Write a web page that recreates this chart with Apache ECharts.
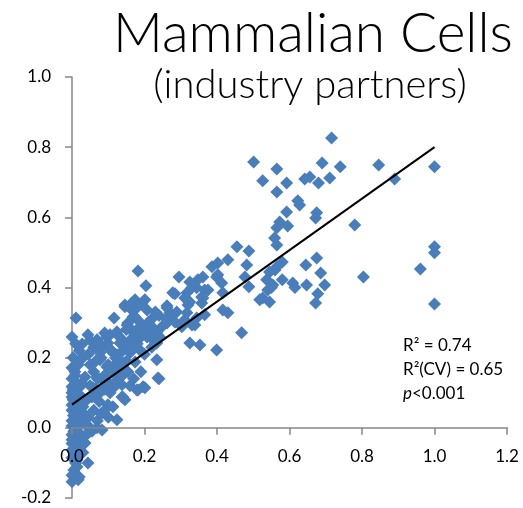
<!DOCTYPE html>
<html>
<head>
<meta charset="utf-8">
<script src="https://cdn.jsdelivr.net/npm/echarts@6/dist/echarts.min.js"></script>
<style>
  html, body { margin: 0; padding: 0; background: #fff; }
  #chart { width: 523px; height: 508px; }
</style>
</head>
<body>
<div id="chart"></div>
<script>
// Measured vs. predicted values, one [x, y] pair per sample
const samplesNearZero = [
  [0.011,0.313],[0.0,0.259],[0.044,0.265],[0.028,0.239],[0.02,0.22],[0.01,0.24],[0.03,0.20],
  [0.045,0.21],[0.06,0.23],[0.05,0.25],[0.065,0.19],[0.06,0.16],[0.07,0.14],[0.05,0.12],
  [0.065,0.11],[0.075,0.075],[0.06,0.05],[0.045,0.03],[0.08,0.04],[0.09,0.05],[0.1,0.03],
  [0.07,0.02],[0.055,-0.01],[0.04,-0.02],[0.03,-0.07],
  [0.003,0.20],[0.008,0.15],[0.0,0.14],[0.012,0.13],[0.004,0.12],[0.02,0.115],[0.0,0.10],
  [0.01,0.095],[0.025,0.09],[0.003,0.08],[0.015,0.075],[0.0,0.065],[0.008,0.06],[0.02,0.055],
  [0.03,0.06],[0.0,0.05],[0.012,0.045],[0.004,0.035],[0.02,0.03],[0.0,0.02],[0.01,0.015],
  [0.03,0.015],[0.0,0.005],[0.015,0.0],[0.04,0.005],[0.005,-0.01],[0.0,-0.02],[0.02,-0.015],
  [0.01,-0.03],[0.03,-0.025],[0.0,-0.045],[0.015,-0.05],[0.005,-0.07],[0.02,-0.075],
  [0.0,-0.085],[0.01,-0.1],[0.005,-0.12],[0.0,-0.135],[0.02,-0.14],
  [0.0,0.171],[0.008,0.16],[0.017,0.18],[0.05,0.18],[0.036,0.145],[0.028,0.128],[0.0,0.117],
  [0.003,0.108],[0.0,0.088],[0.041,0.08],[0.055,0.088],[0.008,0.023],[0.022,0.031],
  [0.036,0.037],[0.0,-0.034],[0.014,-0.034],[0.0,-0.063],[0.022,-0.054],[0.036,-0.043],
  [0.044,-0.1],[0.014,-0.111],[0.0,-0.154],[0.017,-0.148],[-0.005,-0.162],[0.014,-0.091],
  [0.069,0.0],[0.05,0.0],[0.083,-0.006],[0.058,0.114],[0.077,0.108]
];
const samplesLow = [
  [0.116,0.313],[0.146,0.35],[0.174,0.365],[0.201,0.365],[0.165,0.336],[0.174,0.316],
  [0.187,0.302],[0.154,0.299],[0.165,0.279],[0.105,0.265],[0.124,0.274],[0.138,0.251],
  [0.099,0.242],[0.072,0.245],[0.182,0.251],[0.209,0.265],[0.229,0.279],[0.262,0.342],
  [0.27,0.316],[0.278,0.385],[0.077,0.1],[0.105,0.1],[0.124,0.137],[0.138,0.123],[0.14,0.088],
  [0.174,0.188],[0.182,0.108],[0.201,0.114],[0.234,0.194],[0.24,0.14],[0.154,0.16],
  [0.113,0.06],[0.124,0.023],[0.237,0.142],[0.179,0.108],[0.196,0.117],[0.138,0.088],
  [0.146,0.08],[0.099,0.066],[0.069,0.251],[0.085,0.231],[0.096,0.259],[0.077,0.214],
  [0.105,0.222],[0.077,0.194],[0.096,0.174],[0.118,0.18],[0.069,0.145],[0.085,0.137],
  [0.105,0.117],[0.132,0.242],[0.152,0.231],[0.16,0.214],[0.168,0.231],[0.124,0.208],
  [0.138,0.188],[0.187,0.222],[0.207,0.259],[0.223,0.251],
  [0.09,0.15],[0.1,0.18],[0.11,0.16],[0.12,0.2],[0.13,0.17],[0.14,0.22],[0.15,0.19],
  [0.16,0.25],[0.17,0.27],[0.18,0.24],[0.19,0.26],[0.2,0.28],[0.21,0.3],[0.22,0.31],
  [0.24,0.32],[0.25,0.29],[0.23,0.33],[0.26,0.31],[0.1,0.13],[0.09,0.11],[0.12,0.12],
  [0.14,0.15],[0.16,0.12],[0.17,0.14],[0.19,0.16],[0.2,0.21],[0.22,0.23],[0.11,0.22],
  [0.13,0.26],[0.15,0.28],[0.08,0.2],[0.09,0.27]
];
const samplesMid = [
  [0.182,0.447],[0.204,0.405],[0.146,0.345],[0.179,0.342],[0.165,0.356],[0.193,0.356],
  [0.207,0.336],[0.168,0.316],[0.152,0.293],[0.187,0.288],[0.207,0.274],[0.223,0.285],
  [0.234,0.271],[0.242,0.259],[0.234,0.242],[0.262,0.299],[0.27,0.328],[0.284,0.302],
  [0.303,0.288],[0.317,0.328],[0.331,0.293],[0.344,0.313],[0.358,0.356],
  [0.295,0.43],[0.284,0.382],[0.262,0.348],[0.325,0.416],[0.331,0.40],[0.317,0.385],
  [0.32,0.350],[0.344,0.399],[0.361,0.43],[0.358,0.373],[0.366,0.393],[0.386,0.459],
  [0.402,0.47],[0.399,0.43],[0.413,0.413],[0.416,0.385],[0.43,0.479],[0.416,0.336],
  [0.43,0.328],[0.455,0.516],[0.488,0.504],[0.482,0.464],[0.477,0.43],[0.488,0.402],
  [0.347,0.422],[0.402,0.436],[0.311,0.37],[0.325,0.359],[0.375,0.393],[0.361,0.37],
  [0.289,0.33],[0.311,0.308],[0.339,0.293],[0.366,0.322],[0.468,0.271],[0.325,0.242],
  [0.353,0.236],[0.399,0.222],[0.518,0.365]
];
const samplesHigh = [
  [0.716,0.826],[0.69,0.755],[0.74,0.744],[0.846,0.749],[1.0,0.744],[0.565,0.738],
  [0.501,0.758],[0.526,0.704],[0.592,0.698],[0.642,0.709],[0.656,0.715],[0.68,0.698],
  [0.711,0.712],[0.89,0.709],[0.565,0.672],[0.623,0.647],[0.628,0.635],[0.592,0.615],
  [0.675,0.613],[0.672,0.598],[0.573,0.587],[0.565,0.570],[0.595,0.575],[0.78,0.578],
  [0.559,0.541],[0.565,0.521],[1.0,0.516],[1.0,0.499],[0.675,0.484],[0.58,0.473],
  [0.565,0.459],[0.545,0.444],[0.537,0.422],[0.554,0.407],[0.54,0.393],[0.526,0.370],
  [0.545,0.359],[0.58,0.422],[0.609,0.413],[0.615,0.40],[0.645,0.464],[0.686,0.441],
  [0.647,0.407],[0.697,0.407],[0.678,0.382],[0.672,0.356],[0.804,0.43],[0.961,0.453],
  [1.0,0.353],[0.56,0.45],[0.55,0.40]
];
// Least-squares fit end points
const fitLine = [[0.0, 0.066], [1.0, 0.80]];

const titleText = 'Mammalian Cells';
const subtitleText = '(industry partners)';
const statLines = ['R\u00b2 = 0.74', 'R\u00b2(CV) = 0.65'];
const pText = '<0.001';

const yMin = -0.2, yMax = 1.0;
const axisGray = '#868686';
const labelFont = 'Lato, "Open Sans", sans-serif';

const gridTop = 77, gridBottom = 10, chartH = 508;
const gridH = chartH - gridTop - gridBottom;
// shift the bottom x axis up so that it sits on y = 0
const xAxisShift = -gridH * (0 - yMin) / (yMax - yMin);

const chart = echarts.init(document.getElementById('chart'));
chart.setOption({
  animation: false,
  backgroundColor: '#fff',
  title: [
    { text: titleText, left: 308, top: 2, textAlign: 'center',
      textStyle: { fontFamily: 'Lato, sans-serif', fontWeight: 300, fontSize: 55, color: '#000' } },
    { text: subtitleText, left: 305, top: 60, textAlign: 'center',
      textStyle: { fontFamily: 'Lato, sans-serif', fontWeight: 300, fontSize: 40, color: '#000' } }
  ],
  grid: { left: 72, right: 16, top: gridTop, bottom: gridBottom, containLabel: false, outerBoundsMode: 'none' },
  xAxis: {
    type: 'value', min: 0, max: 1.2, interval: 0.2,
    position: 'bottom',
    offset: xAxisShift,
    z: 10,
    axisLine: { onZero: false, lineStyle: { color: axisGray, width: 1.5 } },
    axisTick: { show: true, length: 7, lineStyle: { color: axisGray, width: 1.5 } },
    axisLabel: { show: true, margin: 20, fontSize: 17, fontFamily: labelFont, color: '#000',
                 formatter: v => v.toFixed(1) },
    splitLine: { show: false }
  },
  yAxis: {
    type: 'value', min: yMin, max: yMax, interval: 0.2,
    axisLine: { show: true, onZero: false, lineStyle: { color: axisGray, width: 1.5 } },
    axisTick: { show: true, length: 7, lineStyle: { color: axisGray, width: 1.5 } },
    axisLabel: { margin: 21, fontSize: 17, fontFamily: labelFont, color: '#000',
                 formatter: v => v.toFixed(1) },
    splitLine: { show: false }
  },
  series: [
    {
      type: 'scatter',
      symbol: 'diamond',
      symbolSize: [13, 13],
      itemStyle: { color: '#4a7ebb', opacity: 1 },
      data: [].concat(samplesNearZero, samplesLow, samplesMid, samplesHigh),
      z: 2
    },
    {
      type: 'line',
      data: fitLine,
      showSymbol: false,
      symbol: 'none',
      lineStyle: { color: '#000', width: 2 },
      z: 3
    }
  ],
  graphic: [
    { type: 'text', left: 403, top: 337,
      style: { text: statLines[0], font: '17px ' + labelFont, fill: '#000' } },
    { type: 'text', left: 403, top: 361,
      style: { text: statLines[1], font: '17px ' + labelFont, fill: '#000' } },
    { type: 'text', left: 403, top: 385,
      style: { text: '{i|p}' + pText,
               rich: { i: { fontStyle: 'italic', fontSize: 17, fontFamily: labelFont } },
               font: '17px ' + labelFont, fill: '#000' } }
  ]
});
</script>
</body>
</html>
